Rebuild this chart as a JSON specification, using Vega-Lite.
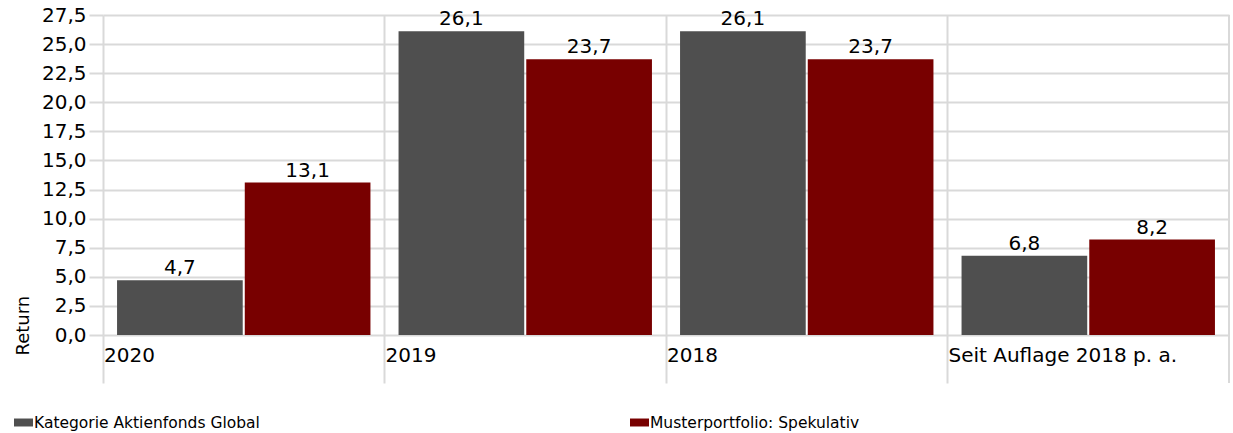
{
  "$schema": "https://vega.github.io/schema/vega-lite/v6.json",
  "width": 1126,
  "height": 320,
  "autosize": "none",
  "padding": {"left": 103, "top": 15, "right": 4, "bottom": 98},
  "config": {
    "font": "DejaVu Sans",
    "view": {"stroke": null},
    "locale": {"number": {"decimal": ",", "thousands": ".", "grouping": [3], "currency": ["", " €"]}}
  },
  "data": {
    "values": [
      {"cat": "2020", "s": "Kategorie Aktienfonds Global", "v": 4.7},
      {"cat": "2020", "s": "Musterportfolio: Spekulativ", "v": 13.1},
      {"cat": "2019", "s": "Kategorie Aktienfonds Global", "v": 26.1},
      {"cat": "2019", "s": "Musterportfolio: Spekulativ", "v": 23.7},
      {"cat": "2018", "s": "Kategorie Aktienfonds Global", "v": 26.1},
      {"cat": "2018", "s": "Musterportfolio: Spekulativ", "v": 23.7},
      {"cat": "Seit Auflage 2018 p. a.", "s": "Kategorie Aktienfonds Global", "v": 6.8},
      {"cat": "Seit Auflage 2018 p. a.", "s": "Musterportfolio: Spekulativ", "v": 8.2}
    ]
  },
  "encoding": {
    "x": {
      "field": "cat", "type": "nominal", "sort": null,
      "scale": {"paddingInner": 0, "paddingOuter": 0},
      "axis": {
        "title": null, "bandPosition": 0, "grid": true, "gridColor": "#d9d9d9", "gridWidth": 2,
        "ticks": true, "tickSize": 48, "tickColor": "#d9d9d9", "tickWidth": 2, "domain": false,
        "labelAlign": "left", "labelBaseline": "top", "labelPadding": -38, "labelFontSize": 20,
        "labelColor": "#000000", "labelAngle": 0, "labelLimit": 400, "labelOffset": -139.75,
        "labelOverlap": false, "labelBound": false
      }
    },
    "y": {
      "field": "v", "type": "quantitative",
      "scale": {"domain": [0, 27.5], "nice": false},
      "axis": {
        "title": "Return", "values": [0, 2.5, 5, 7.5, 10, 12.5, 15, 17.5, 20, 22.5, 25, 27.5],
        "format": ".1f", "labelFontSize": 20, "labelColor": "#000000", "labelPadding": 3,
        "labelOverlap": false, "labelFlush": false,
        "tickSize": 14, "tickColor": "#d9d9d9", "tickWidth": 2, "gridColor": "#d9d9d9", "gridWidth": 2,
        "domain": false, "titleFontSize": 18, "titleFontWeight": "normal", "titleColor": "#000000",
        "titleAngle": -90, "titleX": -75, "titleY": 340, "titleAlign": "left", "titleBaseline": "alphabetic"
      }
    }
  },
  "layer": [
    {
      "mark": {"type": "bar"},
      "encoding": {
        "xOffset": {"field": "s", "type": "nominal", "scale": {"paddingInner": 0.016, "paddingOuter": 0.11}},
        "color": {
          "field": "s", "type": "nominal",
          "scale": {"range": ["#4f4f4f", "#780000"]},
          "legend": {
            "title": null, "orient": "none", "legendX": -89, "legendY": 398, "direction": "horizontal",
            "columns": 2, "columnPadding": 370, "symbolType": "M-1,-0.42H1V0.42H-1Z", "symbolSize": 361,
            "symbolStrokeWidth": 0, "labelFontSize": 15.5, "labelOffset": 1, "labelLimit": 400, "labelColor": "#000000"
          }
        }
      }
    },
    {
      "mark": {"type": "text", "baseline": "bottom", "dy": -2, "fontSize": 20, "color": "#000000"},
      "encoding": {
        "xOffset": {"field": "s", "type": "nominal"},
        "text": {"field": "v", "type": "quantitative", "format": ".1f"}
      }
    },
    {
      "transform": [{"filter": "datum.cat === 'Seit Auflage 2018 p. a.' && datum.s === 'Kategorie Aktienfonds Global'"}],
      "mark": {"type": "rule", "color": "#d9d9d9", "strokeWidth": 2},
      "encoding": {
        "x": {"field": "cat", "type": "nominal", "sort": null, "bandPosition": 1},
        "y": {"datum": 27.5, "type": "quantitative"},
        "y2": {"datum": -4.125}
      }
    }
  ]
}
